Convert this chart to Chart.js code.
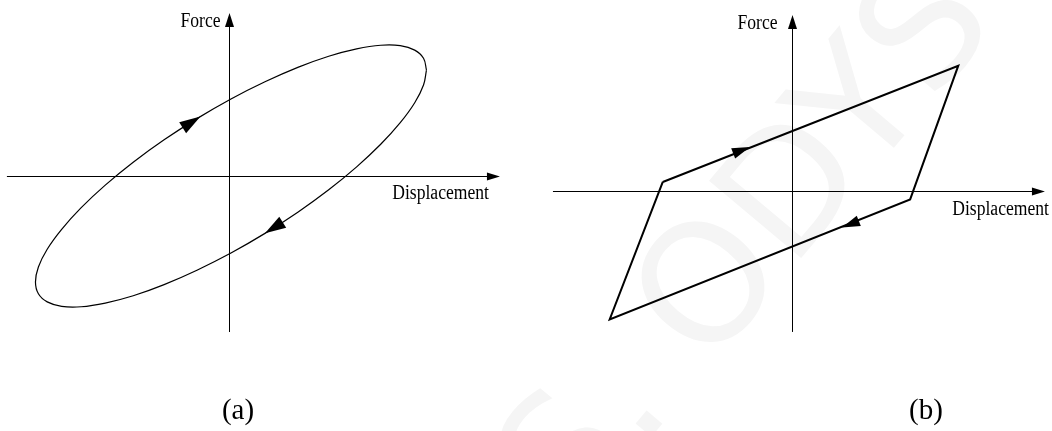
<!DOCTYPE html>
<html>
<head>
<meta charset="utf-8">
<script src="https://cdn.jsdelivr.net/npm/chart.js@4.4.1/dist/chart.umd.min.js"></script>
<style>
  html, body { margin: 0; padding: 0; background: #fff; }
  #wrap { position: relative; width: 1052px; height: 431px; overflow: hidden; }
  .panel { position: absolute; top: 0; }
  .caption {
    position: absolute; top: 392px; width: 100px; text-align: center;
    font: 29px "Liberation Serif", "Times New Roman", serif; line-height: 34px; color: #000;
  }
  #mark {
    position: absolute; left: 742px; top: 240px; white-space: nowrap;
    font: 165px "DejaVu Sans", sans-serif; color: #f5f5f5;
    transform: translate(-50%, -50%) rotate(-50deg);
  }
</style>
</head>
<body>
<div id="wrap">
  <div id="mark">S. ODYS</div>
  <canvas id="loopA" class="panel" style="left:0" width="526" height="431"></canvas>
  <canvas id="loopB" class="panel" style="left:526px" width="526" height="431"></canvas>
  <div class="caption" style="left:188px">(a)</div>
  <div class="caption" style="left:876px">(b)</div>
</div>
<script>
// (a) elliptical loop, one point every 10 degrees of the cycle
const ellipseDisp = [1.010, 0.995, 0.950, 0.876, 0.776, 0.653, 0.510, 0.352, 0.184, 0.010,
  -0.164, -0.332, -0.490, -0.633, -0.756, -0.856, -0.930, -0.975, -0.990, -0.975, -0.930,
  -0.856, -0.756, -0.633, -0.490, -0.332, -0.164, 0.010, 0.184, 0.352, 0.510, 0.653, 0.776,
  0.876, 0.950, 0.995, 1.010];
const ellipseForce = [0.809, 0.695, 0.559, 0.407, 0.242, 0.070, -0.105, -0.276, -0.438, -0.588,
  -0.719, -0.829, -0.914, -0.970, -0.998, -0.995, -0.961, -0.899, -0.809, -0.695, -0.559,
  -0.407, -0.242, -0.070, 0.105, 0.276, 0.438, 0.588, 0.719, 0.829, 0.914, 0.970, 0.998,
  0.995, 0.961, 0.899, 0.809];
// direction markers on the ellipse: tip and a point just behind it
const ellipseArrowTip = [[-0.146, 0.454], [0.184, -0.438]];
const ellipseArrowTail = [[-0.249, 0.358], [0.286, -0.342]];

// (b) bilinear loop corners
const bilinearDisp = [-0.78, 1.00, 0.71, -1.10, -0.78];
const bilinearForce = [0.07, 1.00, -0.07, -1.03, 0.07];
const bilinearArrowTip = [[-0.255, 0.35], [0.30, -0.295]];
const bilinearArrowTail = [[-0.40, 0.275], [0.45, -0.215]];

const toPoints = (xs, ys) => xs.map((v, i) => ({ x: v, y: ys[i] }));

function arrowHead(ctx, tx, ty, dx, dy, len, half) {
  const n = Math.hypot(dx, dy);
  const ux = dx / n, uy = dy / n;
  const bx = tx - ux * len, by = ty - uy * len;
  ctx.beginPath();
  ctx.moveTo(tx, ty);
  ctx.lineTo(bx - uy * half, by + ux * half);
  ctx.lineTo(bx + uy * half, by - ux * half);
  ctx.closePath();
  ctx.fill();
}

// narrow serif title, right-aligned at (px, py)
function title(ctx, text, px, py) {
  ctx.save();
  ctx.translate(px, py);
  ctx.scale(0.88, 1);
  ctx.fillText(text, 0, 0);
  ctx.restore();
}

// axes through the origin with arrowheads and their titles
const axesPlugin = {
  id: 'crossAxes',
  beforeDatasetsDraw(chart, args, opts) {
    const { ctx, scales: { x, y } } = chart;
    const x0 = Math.round(x.getPixelForValue(0)) + 0.5;
    const y0 = Math.round(y.getPixelForValue(0)) + 0.5;
    const left = x.getPixelForValue(opts.xFrom), right = x.getPixelForValue(opts.xTo);
    const bottom = y.getPixelForValue(opts.yFrom), top = y.getPixelForValue(opts.yTo);
    ctx.save();
    ctx.strokeStyle = '#000';
    ctx.fillStyle = '#000';
    ctx.lineWidth = 1;
    ctx.beginPath();
    ctx.moveTo(left, y0); ctx.lineTo(right - 6, y0);
    ctx.moveTo(x0, bottom); ctx.lineTo(x0, top + 6);
    ctx.stroke();
    arrowHead(ctx, right, y0, 1, 0, opts.head, opts.half);
    arrowHead(ctx, x0, top, 0, -1, opts.head + 1, opts.half + 0.5);
    ctx.font = '20px "Liberation Serif", "Times New Roman", serif';
    ctx.textAlign = 'right';
    ctx.textBaseline = 'alphabetic';
    title(ctx, 'Force', x0 - opts.forceGap, top + 14);
    title(ctx, 'Displacement', right + opts.dispShift, y0 + opts.dispDrop);
    ctx.restore();
  },
  afterDatasetsDraw(chart, args, opts) {
    const { ctx, scales: { x, y } } = chart;
    ctx.save();
    ctx.fillStyle = '#000';
    opts.tips.forEach((tip, i) => {
      const tail = opts.tails[i];
      const tx = x.getPixelForValue(tip[0]), ty = y.getPixelForValue(tip[1]);
      const sx = x.getPixelForValue(tail[0]), sy = y.getPixelForValue(tail[1]);
      arrowHead(ctx, tx, ty, tx - sx, ty - sy, opts.markLen, opts.markHalf);
    });
    ctx.restore();
  }
};

function makeChart(id, points, lineWidth, tension, scales, axes) {
  return new Chart(document.getElementById(id), {
    type: 'scatter',
    data: {
      datasets: [{
        data: points,
        showLine: true,
        borderColor: '#000',
        borderWidth: lineWidth,
        borderJoinStyle: 'miter',
        tension: tension,
        pointRadius: 0,
        fill: false
      }]
    },
    options: {
      responsive: false,
      animation: false,
      layout: { padding: 0 },
      plugins: {
        legend: { display: false },
        tooltip: { enabled: false },
        crossAxes: axes
      },
      scales: {
        x: { type: 'linear', display: false, min: scales.xMin, max: scales.xMax },
        y: { type: 'linear', display: false, min: scales.yMin, max: scales.yMax }
      }
    },
    plugins: [axesPlugin]
  });
}

makeChart('loopA', toPoints(ellipseDisp, ellipseForce), 1.2, 0.4,
  { xMin: -1.1714, xMax: 1.5192, yMin: -1.9466, yMax: 1.3435 },
  { xFrom: -1.136, xTo: 1.386, yFrom: -1.191, yTo: 1.244, head: 13, half: 4,
    forceGap: 9, dispShift: -11, dispDrop: 22, tips: ellipseArrowTip, tails: ellipseArrowTail,
    markLen: 21, markHalf: 6.5 });

makeChart('loopB', toPoints(bilinearDisp, bilinearForce), 2, 0,
  { xMin: -1.604, xMax: 1.5645, yMin: -1.9224, yMax: 1.5256 },
  { xFrom: -1.4416, xTo: 1.522, yFrom: -1.130, yTo: 1.4056, head: 13, half: 4,
    forceGap: 15, dispShift: 4, dispDrop: 23, tips: bilinearArrowTip, tails: bilinearArrowTail,
    markLen: 18, markHalf: 5.5 });
</script>
</body>
</html>
